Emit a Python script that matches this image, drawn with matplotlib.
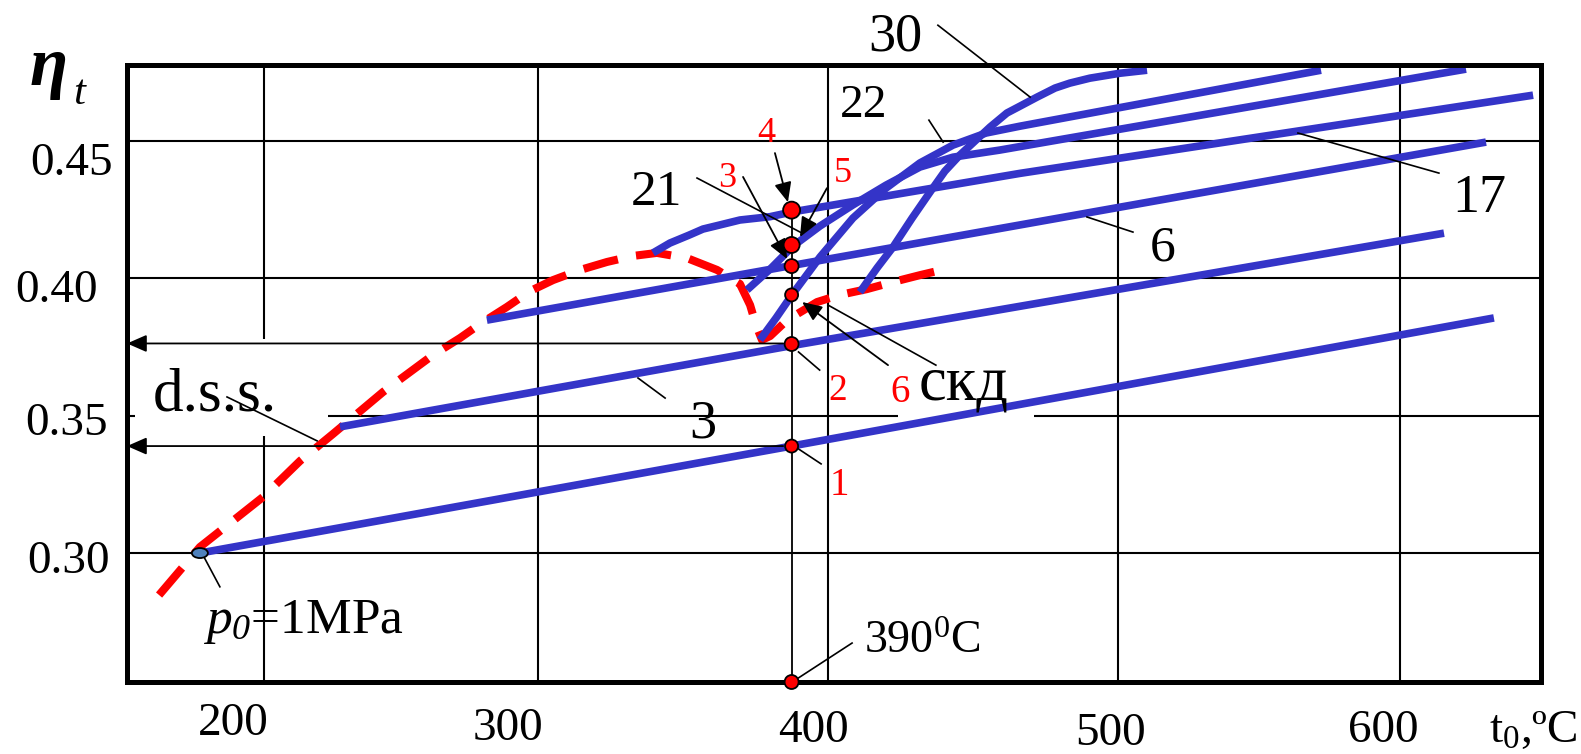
import numpy as np
import matplotlib
matplotlib.use("Agg")
import matplotlib.pyplot as plt
from matplotlib.patches import Ellipse

plt.rcParams['font.family'] = ['Liberation Serif', 'DejaVu Serif']
plt.rcParams['mathtext.fontset'] = 'custom'
plt.rcParams['mathtext.rm'] = 'Liberation Serif'
plt.rcParams['mathtext.it'] = 'Liberation Serif:italic'
plt.rcParams['mathtext.bf'] = 'Liberation Serif:italic'   # used for the italic subscript 0

# --- data (t0 in degC, eta_t) ---
t_dss = [161.7, 176.6, 199.6, 213.2, 225.2, 243.5, 261.8, 271.7, 279.0, 288.8, 297.3,
         305.5, 315.1, 324.6, 333.8, 342.3, 353.0, 363.6, 371.7, 375.3, 377.4, 379.5,
         382.4, 388.4, 397.0, 404.1, 413.4, 422.4, 431.7, 442.1]
eta_dss = [.2846, .3021, .3203, .3335, .3433, .3586, .3721, .3783, .3834, .3896, .3954,
           .3994, .4031, .4060, .4082, .4093, .4074, .4031, .3980, .3903, .3830, .3776,
           .3790, .3848, .3914, .3940, .3961, .3987, .4012, .4038]

t_p1 = [176.6, 390, 633.3]
eta_p1 = [.2999, .3389, .3856]
t_p3 = [227.8, 390, 615.6]
eta_p3 = [.3459, .3755, .4165]
t_p6 = [281.5, 390, 630.5]
eta_p6 = [.3848, .4047, .4497]
t_p17 = [340.9, 346.9, 353.7, 358.6, 364.6, 371.7, 382.3, 390.4, 408.6, 466.2, 647.2]
eta_p17 = [.4093, .4129, .4158, .4180, .4195, .4213, .4225, .4243, .4280, .4383, .4668]
t_p21 = [374.2, 382.4, 390.4, 397.8, 408.6, 420.0, 431.7, 443.1, 459.3, 623.4]
eta_p21 = [.3958, .4034, .4118, .4191, .4268, .4340, .4406, .4442, .4468, .4763]
t_p22 = [378.8, 384.5, 390.1, 397.8, 408.6, 420.0, 431.7, 443.1, 454.5, 466.2, 572.0]
eta_p22 = [.3776, .3856, .3940, .4078, .4220, .4329, .4421, .4486, .4530, .4555, .4759]
t_p30 = [411.0, 416.9, 422.4, 429.0, 435.2, 440.3, 445.5, 450.7, 455.9, 461.7, 466.2,
         472.1, 478.3, 483.4, 490.3, 500.7, 510.3]
eta_p30 = [.3950, .4038, .4114, .4220, .4315, .4391, .4450, .4501, .4552, .4603, .4628,
           .4661, .4694, .4712, .4730, .4748, .4759]

t_mark = 390
eta_mark = [.2529, .3389, .3761, .3940, .4045, .4122, .4249]   # bottom, 1, 2, 6, 3, 5, 4
eta_arrows = [.3763, .3389]

x_grid = [200, 300, 400, 500, 600]
y_grid = [0.30, 0.35, 0.40, 0.45]
x_ticklabels = ['200', '300', '400', '500', '600']
y_ticklabels = ['0.30', '0.35', '0.40', '0.45']

# hand-drawn axis: where each temperature sits along the frame (pixels)
T_KNOTS = [100, 150, 200, 300, 390, 400, 500, 600, 650, 700]
P_KNOTS = [-10, 127, 264, 537.5, 791.6, 828, 1118, 1400, 1541, 1682]

BLUE = '#3434c8'
RED = '#ff0000'

fig = plt.figure(figsize=(15.81, 7.54), dpi=100)
ax = fig.add_axes([127/1581, 1-682/754, (1541-127)/1581, (682-65)/754])
ax.set_xscale('function', functions=(lambda t: np.interp(t, T_KNOTS, P_KNOTS),
                                     lambda p: np.interp(p, P_KNOTS, T_KNOTS)))
ax.set_xlim(150, 650)
ax.set_ylim(0.2529, 0.4778)
ymin, ymax = ax.get_ylim()
ax.set_xticks([])
ax.set_yticks([])
for s in ax.spines.values():
    s.set_linewidth(3.6)
    s.set_zorder(7)

# grid (some lines are broken in the original)
for x in x_grid[1:]:
    ax.vlines(x, ymin, ymax, color='k', lw=1.5, zorder=1)
ax.vlines(x_grid[0], ymin, .3426, color='k', lw=1.5, zorder=1)
ax.vlines(x_grid[0], .3781, ymax, color='k', lw=1.5, zorder=1)
for y in [y_grid[0], y_grid[2], y_grid[3]]:
    ax.hlines(y, 150, 650, color='k', lw=1.5, zorder=1)
ax.hlines(y_grid[1], 223.4, 424.1, color='k', lw=1.5, zorder=1)
ax.hlines(y_grid[1], 471.0, 650, color='k', lw=1.5, zorder=1)
ax.hlines(y_grid[1], 150, 152.8, color='k', lw=1.5, zorder=1)

# saturation line
ax.plot(t_dss, eta_dss, color=RED, lw=5.8, dashes=(4.4, 2.3), dash_capstyle='butt', zorder=2)

# pressure lines
for tt, ee in [(t_p1, eta_p1), (t_p3, eta_p3), (t_p6, eta_p6), (t_p17, eta_p17),
               (t_p21, eta_p21), (t_p22, eta_p22), (t_p30, eta_p30)]:
    ax.plot(tt, ee, color=BLUE, lw=5.5, solid_capstyle='butt', solid_joinstyle='round', zorder=3)

# 390 C column with points
ax.plot([t_mark, t_mark], [ymin, eta_mark[-1]], color='k', lw=1.3, zorder=5)
dot_d = np.array([14, 13, 14, 13, 14, 16, 17])
ax.scatter([t_mark]*len(eta_mark), eta_mark, s=(dot_d*0.72)**2, c=RED, edgecolors='k',
           linewidths=1.3, zorder=8, clip_on=False)
ax.add_patch(Ellipse((t_p1[0], eta_p1[0]), 16/2.74, 10*3.644e-4, fc='#4f81bd', ec='k',
                     lw=1.3, zorder=8))

head = dict(arrowstyle='-|>,head_length=0.8,head_width=0.35', color='k', lw=1.3,
            shrinkA=0, shrinkB=0, mutation_scale=15)
for e in eta_arrows:
    ax.annotate('', xy=(150, e), xytext=(387, e), arrowprops=head, annotation_clip=False, zorder=6)

# arrows to the numbered points
for (x0, y0), (x1, y1) in [((384.1, .4457), (388.7, .4278)),
                           ((372.8, .4370), (388.4, .4071)),
                           ((399.7, .4329), (392.3, .4151)),
                           ((420.7, .3684), (392.9, .3914))]:
    ax.annotate('', xy=(x1, y1), xytext=(x0, y0), arrowprops=head, zorder=6)

# plain leader lines
leaders = [((437.9, .4923), (469.7, .4661)),   # 30
           ((434.8, .4577), (439.7, .4497)),   # 22
           ((563.8, .4530), (613.8, .4384)),   # 17
           ((489.3, .4224), (505.3, .4169)),   # 6
           ((356.5, .4366), (392.9, .4165)),   # 21
           ((437.2, .3684), (400.0, .3903)),   # skd
           ((391.9, .3732), (397.7, .3666)),   # 2
           ((391.5, .3382), (398.1, .3324)),   # 1
           ((335.6, .3637), (345.2, .3564)),   # 3
           ((186.5, .3568), (219.4, .3408)),   # d.s.s.
           ((177.7, .2992), (183.9, .2876)),   # p0
           ((391.9, .2544), (408.3, .2671))]   # 390
for (x0, y0), (x1, y1) in leaders:
    ax.plot([x0, x1], [y0, y1], color='k', lw=1.2, zorder=5, clip_on=False)

# labels
black_lbl = [('30', 423.1, .4832, 39), ('22', 412.4, .4588, 34), ('21', 342.0, .4268, 37),
             ('17', 628.0, .4242, 39), ('6', 516.0, .4067, 37), ('3', 358.6, .3422, 39)]
for s, x, y, fs in black_lbl:
    ax.text(x, y, s, fontsize=fs, ha='center', va='baseline', zorder=9, clip_on=False)
red_lbl = [('4', 381.0, .4497, 26), ('3', 367.1, .4333, 26), ('5', 405.2, .4351, 26),
           ('2', 403.4, .3557, 27), ('6', 424.8, .3550, 28), ('1', 403.8, .3211, 28)]
for s, x, y, fs in red_lbl:
    ax.text(x, y, s, fontsize=fs, color=RED, ha='center', va='baseline', zorder=9)
ax.text(431.4, .3557, 'скд', fontsize=45, ha='left', va='baseline', zorder=9)
ax.text(159.5, .3520, 'd.s.s.', fontsize=44, ha='left', va='baseline', zorder=9)
ax.text(177.7, .2708, r'$p_{\mathbf{0}}$=1MPa', fontsize=37, ha='left', va='baseline', zorder=9)
ax.text(412.4, .2635, r'390$^0$C', fontsize=33, ha='left', va='baseline', zorder=9)

# tick labels, placed where the original has them
ytl_pos = [(.0696, .2396), (.0683, .4231), (.0620, .5999), (.0715, .7679)]
for s, (fx, fy) in zip(y_ticklabels, ytl_pos):
    fig.text(fx, fy, s, fontsize=34, ha='right', va='baseline')
xtl_pos = [(.1474, .0252), (.3215, .0186), (.5142, .0159), (.7027, .0119), (.8748, .0159)]
for s, (fx, fy) in zip(x_ticklabels, xtl_pos):
    fig.text(fx, fy, s, fontsize=34, ha='center', va='baseline')
fig.text(.9418, .0159, r't$_0$,ºC', fontsize=34, ha='left', va='baseline')
fig.text(.019, .8873, 'η', fontsize=50, fontweight='bold', fontstyle='italic', ha='left', va='baseline')
fig.text(.0465, .8625, 't', fontsize=31, fontstyle='italic', ha='left', va='baseline')

fig.savefig('out.png', dpi=100)
